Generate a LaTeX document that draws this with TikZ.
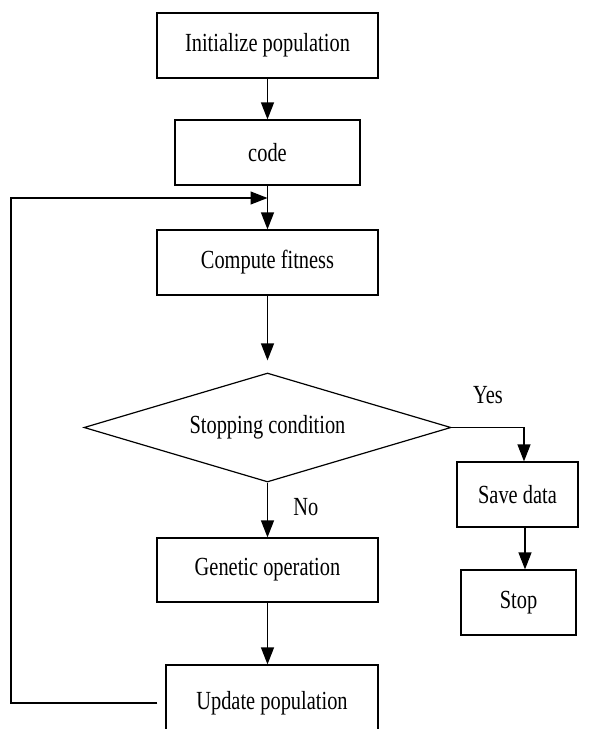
\documentclass[tikz,border=0pt]{standalone}
\usepackage{fontspec}
\setmainfont{Liberation Serif}
\usetikzlibrary{shapes.geometric,arrows.meta}
\newcommand{\tallword}[1]{\scalebox{1}[1.28]{#1}}
\begin{document}
\begin{tikzpicture}[x=1pt,y=-1pt,line width=1.2pt,
  box/.style={draw,rectangle,minimum height=65pt,inner sep=0pt,font=\fontsize{20.4}{24}\selectfont},
  cond/.style={draw,diamond,aspect=3.4,minimum width=367pt,minimum height=109pt,inner sep=0pt,font=\fontsize{20.4}{24}\selectfont},
  arr/.style={-{Triangle[length=17pt,width=13pt]}},
  lbl/.style={font=\fontsize{20.4}{24}\selectfont}]
\useasboundingbox  (0,0)  rectangle  (592,729);
\node  [box,minimum width=221pt]  (init)  at  (267.5,45.5)  {\tallword{Initialize population}};
\node  [box,minimum width=185pt]  (code)  at  (267.5,152.5)  {\tallword{code}};
\node  [box,minimum width=221pt]  (fit)  at  (267.5,262.5)  {\tallword{Compute fitness}};
\node  [cond]  (stopc)  at  (267.5,427.5)  {\tallword{Stopping condition}};
\node  [box,minimum width=221pt,minimum height=64pt]  (gen)  at  (267.5,570)  {\tallword{Genetic operation}};
\node  [box,minimum width=212pt,minimum height=76pt]  (upd)  at  (272,703)  {\tallword{Update population}};
\node  [box,minimum width=121pt]  (save)  at  (517.5,494.5)  {\tallword{Save data}};
\node  [box,minimum width=115pt]  (stop)  at  (518.5,602.5)  {\tallword{Stop}};
\coordinate  (loopend)  at  ([xshift=-8pt]upd.west);
\coordinate  (join)  at  (267.5,198);
% main line
\draw  [arr]  (init.south)  --  (code.north);
\draw  [arr]  (code.south)  --  (fit.north);
\draw  [arr]  (fit.south)  --  ([yshift=12pt]stopc.north);
\draw  [arr]  (stopc.south)  --  (gen.north)  node[lbl,pos=.45,right=22pt]{\tallword{No}};
\draw  [arr]  (gen.south)  --  (gen.south  |-  upd.north);
% yes branch
\draw  [arr]  (stopc.east)  --  ([xshift=6.5pt]save.north  |-  stopc.east)  node[lbl,above=20pt,xshift=-36pt]{\tallword{Yes}}  --  ([xshift=6.5pt]save.north);
\draw  [arr]  ([xshift=7.5pt]save.south)  --  ([xshift=7.5pt]save.south  |-  stop.north);
% loop back
\draw  [arr]  (loopend)  --  (11,703)  --  (11,198)  --  (join);
\end{tikzpicture}
\end{document}
